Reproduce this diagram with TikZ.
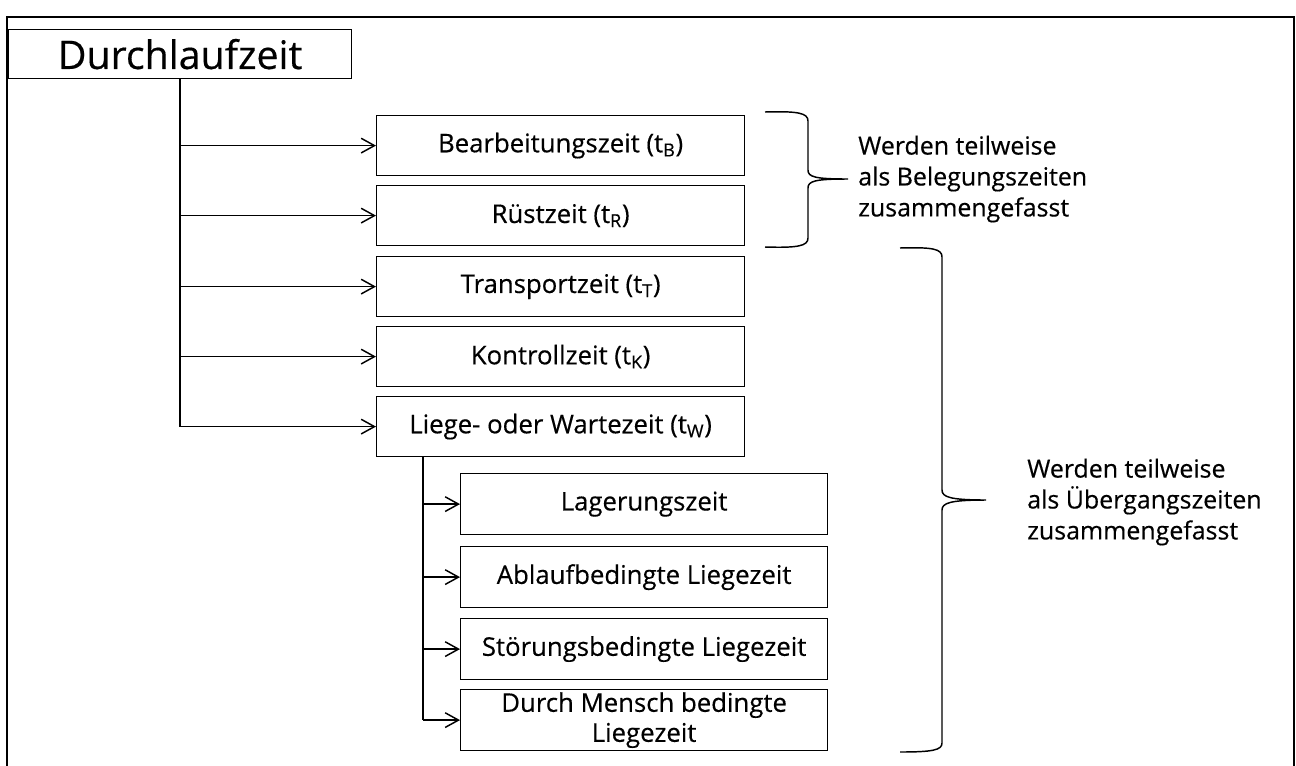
\documentclass[tikz,border=0pt]{standalone}
\usepackage{fontspec}
\setmainfont{Open Sans}[FakeBold=0.4]
\usetikzlibrary{arrows.meta,calc}

\begin{document}
\begin{tikzpicture}[x=0.75pt,y=-0.75pt,
  frame/.style={line width=1.5pt},
  box/.style={draw, line width=0.9pt, minimum width=276pt, minimum height=45pt,
    inner sep=0pt, anchor=north west, align=center,
    font=\fontsize{19.3}{22.5}\selectfont},
  subbox/.style={box, minimum width=275.25pt, minimum height=45.75pt},
  titlebox/.style={draw, line width=0.9pt, minimum width=257.25pt, minimum height=36.75pt,
    inner sep=0pt, anchor=north west, font=\fontsize{29.5}{32}\selectfont},
  trunk/.style={line width=1.5pt},
  conn/.style={line width=1.1pt, -{Straight Barb[length=10pt,width=11pt]}},
  brace/.style={line width=1.1pt},
  note/.style={anchor=west, inner sep=0pt, align=left,
    font=\fontsize{18.7}{23.2}\selectfont}
]
\useasboundingbox (0,0) rectangle (1296,765);

% outer frame (runs out past the lower edge)
\draw[frame] (7,770) -- (7,17) -- (1294,17) -- (1294,770);

% top node
\node[titlebox] (dz) at (8,29) {Durchlaufzeit};

% first level
\node[box] (B) at (376,115) {Bearbeitungszeit (t\textsubscript{B})};
\node[box] (R) at (376,185) {Rüstzeit (t\textsubscript{R})};
\node[box] (T) at (376,256) {Transportzeit (t\textsubscript{T})};
\node[box] (K) at (376,326) {Kontrollzeit (t\textsubscript{K})};
\node[box] (L) at (376,396) {Liege- oder Wartezeit (t\textsubscript{W})};

% second level
\node[subbox] (S1) at (460,473) {Lagerungszeit};
\node[subbox] (S2) at (460,546) {Ablaufbedingte Liegezeit};
\node[subbox] (S3) at (460,618) {Störungsbedingte Liegezeit};
\node[subbox] (S4) at (460,689) {Durch Mensch bedingte\\Liegezeit};

% connectors of the first level
\draw[trunk] (dz.south) -- (dz.south |- L.west);
\draw[conn] (dz.south |- L.west) -- (L.west);
\foreach \n in {B,R,T,K}
  \draw[conn] (dz.south |- \n.west) -- (\n.west);

% connectors of the second level
\coordinate (lw) at ($(L.south west)+(47,0)$);
\draw[trunk] (lw) -- (lw |- S4.west);
\draw[conn] (lw |- S4.west) -- (S4.west);
\foreach \n in {S1,S2,S3}
  \draw[conn] (lw |- \n.west) -- (\n.west);

% braces
\draw[brace] (765,112) .. controls (798,111) and (808,113) .. (808,121)
  -- (808,170) .. controls (808,177) and (815,179) .. (848,179)
  .. controls (815,179) and (808,181) .. (808,188)
  -- (808,238) .. controls (808,246) and (798,248) .. (765,247);
\draw[brace] (900,248) .. controls (933,247) and (942,249) .. (942,257)
  -- (942,490) .. controls (942,497) and (950,500) .. (986,500)
  .. controls (950,500) and (942,503) .. (942,510)
  -- (942,743) .. controls (942,750) and (933,752) .. (900,752);

% notes
\node[note] (n1) at (858,179) {Werden teilweise\\als Belegungszeiten\\zusammengefasst};
\node[note] (n2) at (1027,502) {Werden teilweise\\als Übergangszeiten\\zusammengefasst};
\end{tikzpicture}
\end{document}
